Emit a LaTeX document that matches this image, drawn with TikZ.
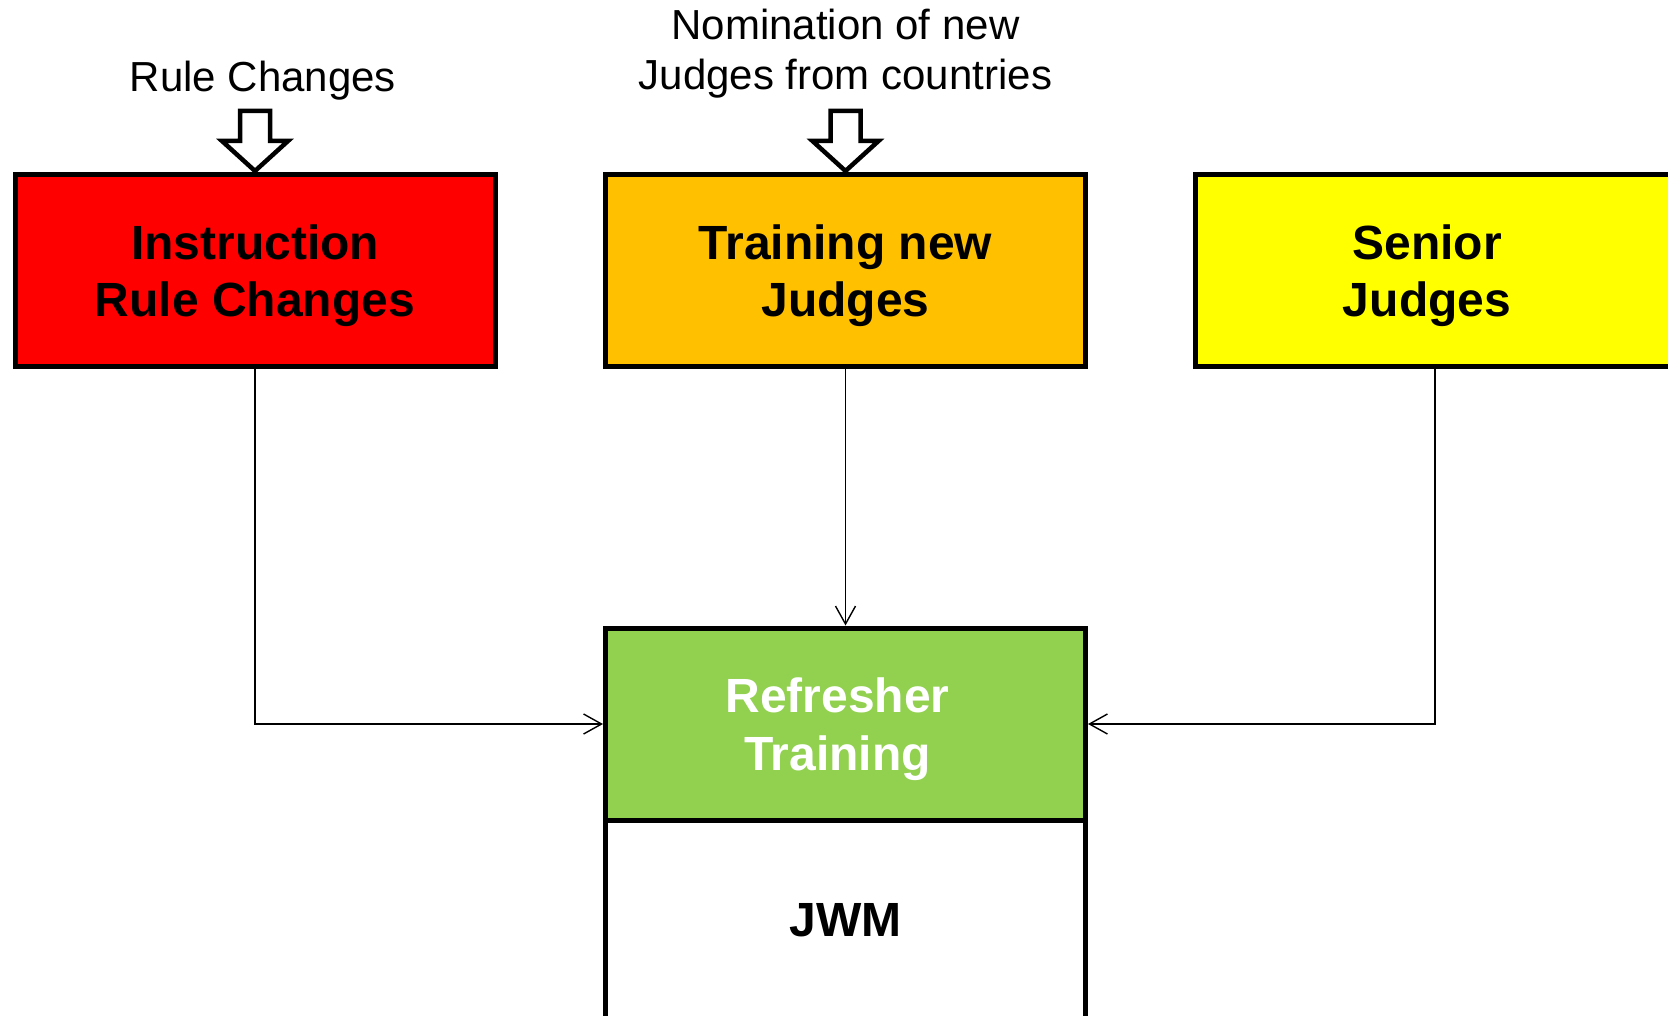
\documentclass[tikz,border=0pt]{standalone}
\usepackage{fontspec}
\setmainfont{Liberation Sans}
\usetikzlibrary{arrows.meta,positioning}
\definecolor{boxred}{HTML}{FF0000}
\definecolor{boxorange}{HTML}{FFC000}
\definecolor{boxyellow}{HTML}{FFFF00}
\definecolor{boxgreen}{HTML}{92D050}

\begin{document}
\begin{tikzpicture}[x=1pt, y=-1pt]
    \tikzstyle{stage} = [draw, line width=5pt, minimum width=480pt, minimum height=192pt, align=center, font=\fontsize{48}{57.5}\selectfont\bfseries]
    \tikzstyle{twoline} = [text depth=0pt]
    \tikzstyle{feed} = [draw, line width=1.4pt, -{Straight Barb[length=18pt, width=20pt]}]
    \tikzstyle{inflow} = [draw, line width=4.5pt, fill=white]
    \tikzstyle{note} = [align=center, font=\fontsize{42}{50}\selectfont]
    \useasboundingbox (0,0) rectangle (1668,1016);
    % the three input boxes
    \node[stage, twoline, fill=boxred] (rules) at (255,270.5) {Instruction\\Rule Changes};
    \node[stage, twoline, fill=boxorange] (newjudges) at (845.5,270.5) {Training new\\Judges};
    \node[stage, twoline, fill=boxyellow] (senior) at (1435,270.5) {Senior\hspace*{16pt}\\Judges\hspace*{16pt}};
    % refresher + JWM
    \node[stage, twoline, fill=boxgreen, text=white] (refresher) at (845.5,724) {Refresher\hspace*{16pt}\\Training\hspace*{16pt}};
    \node[stage, fill=white, minimum height=240pt, text depth=41pt, below=-5pt of refresher] (jwm) {JWM};
    % inputs from outside
    \node[note, anchor=base] (rulelabel) at (263,92) {Rule Changes};
    \node[note] (nominlabel) at (845.5,54) {Nomination of new\\Judges from countries};
    \foreach \b in {rules, newjudges}
        \draw[inflow, shift={(\b.north)}] (-15,-61) -- (15,-61) -- (15,-31) -- (33,-31) -- (0,-1) -- (-33,-31) -- (-15,-31) -- cycle;
    \draw[feed] (rules.south) |- (refresher.west);
    \draw[feed] (newjudges.south) -- (refresher.north);
    \draw[feed] (senior.south) |- (refresher.east);
\end{tikzpicture}
\end{document}
